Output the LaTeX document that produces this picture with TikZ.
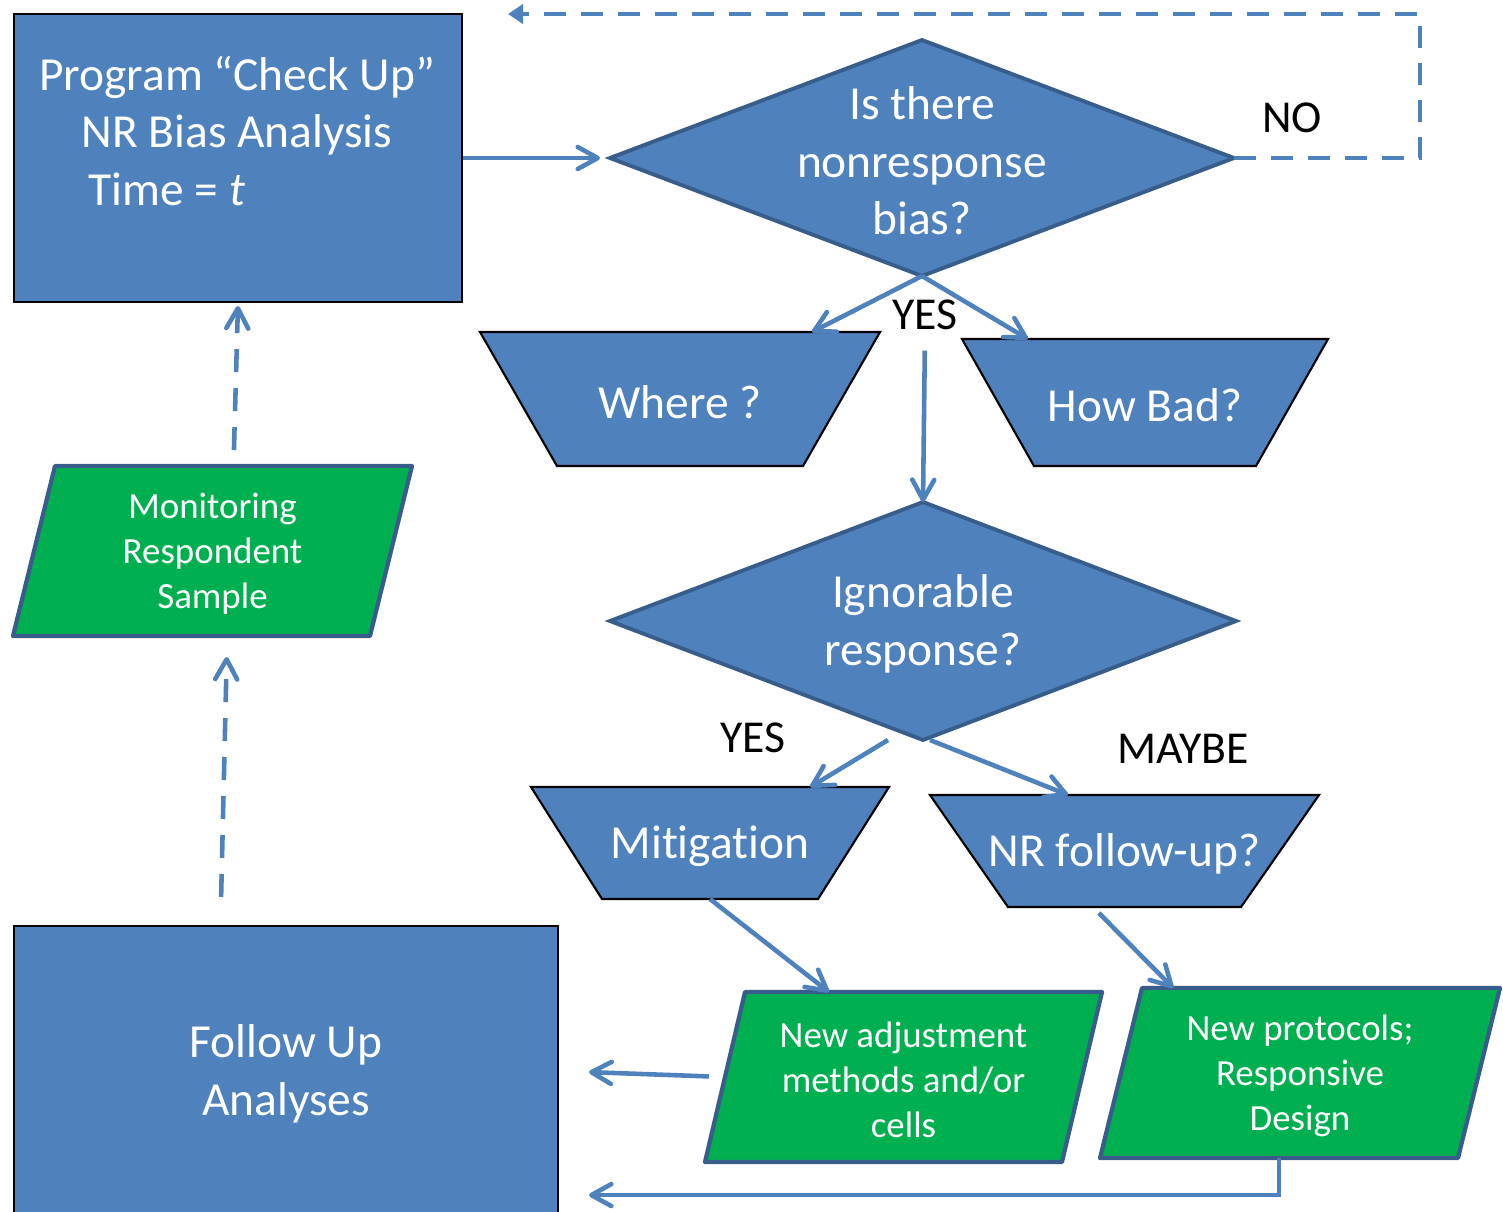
\documentclass[tikz,border=0pt]{standalone}
\usepackage{fontspec}
\setmainfont{Carlito}[Ligatures={TeX,NoCommon}]
\usetikzlibrary{arrows.meta}
\usetikzlibrary{calc}
\definecolor{boxblue}{HTML}{4F81BD}
\definecolor{edgeblue}{HTML}{385D8A}
\definecolor{iogreen}{HTML}{00B050}
\newcommand{\decision}[6] % name, x, y, half width, half height (px), text
{
	% diamond
	\filldraw[decisionshape] (#2-#4,#3) coordinate (#1-w) -- (#2,#3-#5) coordinate (#1-n) -- (#2+#4,#3) coordinate (#1-e) -- (#2,#3+#5) coordinate (#1-s) -- cycle;
	% question
	\node[bigtext] (#1) at (#2,#3) {#6};
}
\newcommand{\funnel}[7] % name, top left x, top right x, top y, inset, bottom y, text
{
	\filldraw[funnelshape] (#2,#4) coordinate (#1-nw) -- (#3,#4) coordinate (#1-ne) -- (#3-#5,#6) coordinate (#1-se) -- (#2+#5,#6) coordinate (#1-sw) -- cycle;
	\node[bigtext] (#1) at ({(#2+#3)/2},{(#4+#6)/2}) {#7};
}
\newcommand{\iobox}[7] % name, top left x, top right x, top y, slant, bottom y, text
{
	\filldraw[ioshape] (#2,#4) coordinate (#1-nw) -- (#3,#4) coordinate (#1-ne) -- (#3-#5,#6) coordinate (#1-se) -- (#2-#5,#6) coordinate (#1-sw) -- cycle;
	\node[smalltext] (#1) at ({(#2+#3-#5)/2},{(#4+#6)/2}) {#7};
}

\begin{document}
\begin{tikzpicture}[x=0.1mm, y=-0.1mm,
	bigtext/.style={text=white, align=center, inner sep=0pt, yshift=-0.3mm, font=\fontsize{13.5}{16.4}\selectfont},
	smalltext/.style={text=white, align=center, inner sep=0pt, yshift=-0.3mm, font=\fontsize{10.5}{12.8}\selectfont},
	answer/.style={text=black, inner sep=0pt, font=\fontsize{13}{15}\selectfont},
	bluebox/.style={fill=boxblue, draw=black, line width=0.6pt},
	decisionshape/.style={fill=boxblue, draw=edgeblue, line width=1.1pt},
	funnelshape/.style={fill=boxblue, draw=black, line width=0.6pt},
	ioshape/.style={fill=iogreen, draw=edgeblue, line width=1.2pt, line join=round},
	flow/.style={draw=boxblue, line width=1.3pt, -{Straight Barb[length=2mm, width=2.2mm, round]}},
	dashflow/.style={flow, dash pattern=on 2.3mm off 1.6mm},
	loopflow/.style={draw=boxblue, line width=1.3pt, dash pattern=on 2.2mm off 1.5mm, -{Triangle[length=1.5mm, width=1.9mm]}}]
	% page: 1503 x 1211 px, 1 px = 0.1 mm
	\useasboundingbox (0,0) rectangle (1503,1211);
	% program box
	\node[bluebox, minimum width=44.8mm, minimum height=28.8mm] (check) at (238,158) {};
	\node[bigtext] (checktext) at (237,128) {Program “Check Up”\\NR Bias Analysis\\Time = \textit{t}\hspace*{14mm}};
	% follow up box, runs off the bottom
	\node[bluebox, minimum width=54.4mm, minimum height=29mm] (follow) at (286,1071) {};
	\node[bigtext] (followtext) at (286,1071) {Follow Up\\Analyses};
	
	% questions
	\decision{d1}{922}{158}{312}{118}{Is there\\nonresponse\\bias?};
	\decision{d2}{923}{621}{313}{119}{Ignorable\\response?};
	\funnel{where}{480}{880}{332}{77}{466}{Where ?};
	\funnel{howbad}{962}{1328}{339}{72}{466}{How Bad?};
	\funnel{mitig}{531}{889}{787}{71}{899}{Mitigation};
	\funnel{nrfu}{930}{1319}{795}{78}{907}{NR follow-up?};
	
	% green outputs
	\iobox{mon}{55}{412}{466}{42}{636}{Monitoring\\Respondent\\Sample};
	\iobox{newadj}{745}{1102}{992}{40}{1162}{New adjustment\\methods and/or\\cells};
	\iobox{newprot}{1142}{1500}{988}{42}{1158}{New protocols;\\Responsive\\Design};
	
	% answers
	\node[answer] (no) at (1292,118) {NO};
	\node[answer] (yes1) at (925,315) {YES};
	\node[answer] (yes2) at (753,738) {YES};
	\node[answer] (maybe) at (1183,749) {MAYBE};
	
	% arrows
	\draw[flow, shorten >=1mm] (check.east) -- (d1-w);
	\coordinate (nocorner) at (1420,14);
	\coordinate (noback) at (508,14);
	\draw[loopflow] (d1-e) -| (nocorner) -- (noback);
	\draw[flow] (d1-s) -- ($(where-nw)!0.83!(where-ne)$);
	\draw[flow] (d1-s) -- ($(howbad-nw)!0.18!(howbad-ne)$);
	\draw[flow, shorten <=2mm] (yes1.south) -- (d2-n);
	\draw[flow] ($(d2-s)+(-35,0)$) -- ($(mitig-nw)!0.78!(mitig-ne)$);
	\draw[flow] ($(d2-s)+(7,0)$) -- ($(nrfu-nw)!0.355!(nrfu-ne)$);
	\draw[flow] ($(mitig-sw)!0.5!(mitig-se)$) -- ($(newadj-nw)!0.235!(newadj-ne)$);
	\draw[flow] ($(nrfu-sw)!0.39!(nrfu-se)+(0,6)$) -- ($(newprot-nw)!0.087!(newprot-ne)$);
	\draw[flow, shorten <=1.6mm, shorten >=3mm] ($(newadj-nw)!0.5!(newadj-sw)$) -- (follow.east);
	\coordinate (backin) at ($(follow.south east)+(30,-22)$);
	\draw[flow] ($(newprot-sw)!0.5!(newprot-se)$) |- (backin);
	
	% monitoring loop
	\draw[dashflow, shorten <=2.8mm, shorten >=2.1mm] ($(follow.north west)!0.38!(follow.north east)$) -- ($(mon-sw)!0.6!(mon-se)$);
	\draw[dashflow, shorten <=1.6mm, shorten >=0.3mm] ($(mon-nw)!0.5!(mon-ne)$) -- (check.south);
\end{tikzpicture}
\end{document}
